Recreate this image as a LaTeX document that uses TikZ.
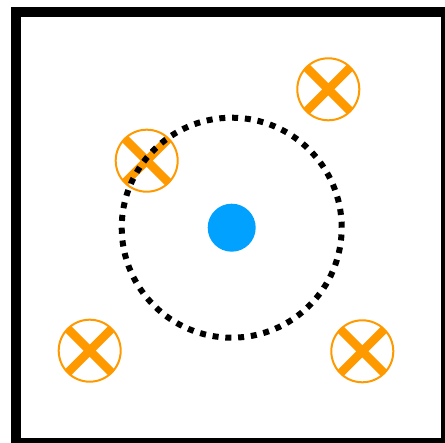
\documentclass[tikz,border=0pt]{standalone}
\usepackage{tikz}
\definecolor{xorange}{RGB}{255,153,0}
\definecolor{dotblue}{RGB}{0,161,255}

\begin{document}
\begin{tikzpicture}[
    x=1pt, y=-1pt,
    src/.style={circle, fill=dotblue, minimum size=48pt, inner sep=0pt},
    xsym/.style={circle, draw=xorange, line width=2pt, minimum size=62pt,
      inner sep=0pt,
      path picture={
        \draw[xorange, line width=8.5pt]
          (path picture bounding box.north west) -- (path picture bounding box.south east)
          (path picture bounding box.north east) -- (path picture bounding box.south west);
      }},
    ring/.style={line width=6pt, dash pattern=on 6pt off 6.8pt},
    frame/.style={line width=10pt}]

    % ---- canvas ----
    \useasboundingbox (0,0) rectangle (445,443);
    \clip (0,0) rectangle (445,443);
    \fill[white] (0,0) rectangle (445,443);
    \draw[frame] (16,12) rectangle (446,443);

    % ---- crossed targets ----
    \node[xsym] (tul) at (146.7,160.7) {};
    \node[xsym] (tur) at (328.3,89.3) {};
    \node[xsym] (tbl) at (89.7,350.7) {};
    \node[xsym] (tbr) at (362.3,351.3) {};

    % ---- source and its range ----
    \node[src] (dot) at (231.7,227.7) {};
    \draw[ring] (dot.center) circle[radius=110pt];
\end{tikzpicture}
\end{document}
